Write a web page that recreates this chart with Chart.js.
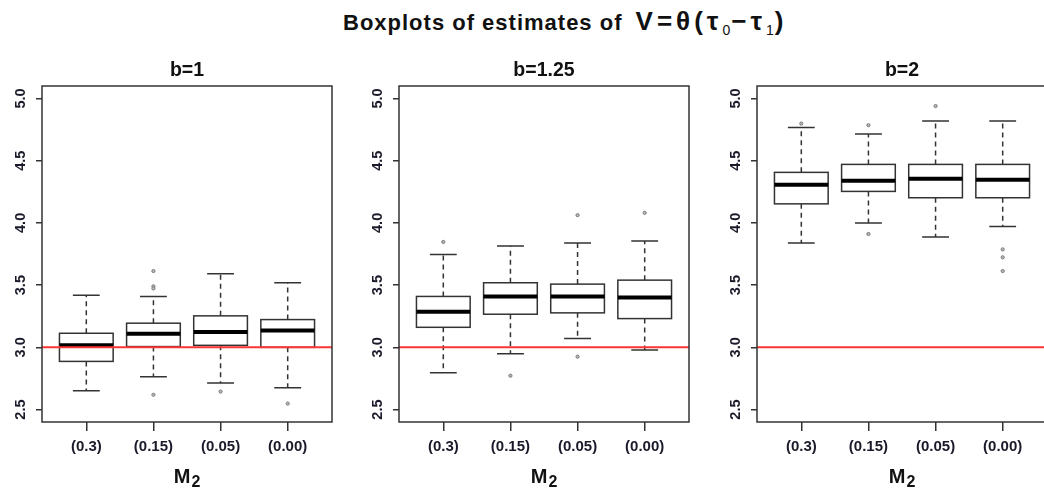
<!DOCTYPE html>
<html>
<head>
<meta charset="utf-8">
<script src="https://cdn.jsdelivr.net/npm/chart.js@4.4.1/dist/chart.umd.min.js"></script>
<style>
    body { margin: 0; width: 1044px; height: 490px; overflow: hidden; background: #fff; position: relative; font-family: "Liberation Sans", Arial, sans-serif; color: #111; }
    .panel { position: absolute; top: 0; width: 357px; height: 490px; }
    .main-title { position: absolute; top: 7px; left: 343px; white-space: nowrap; font-weight: bold; font-size: 22px; letter-spacing: 1px; line-height: 28px; }
    .main-title .math { font-size: 26px; letter-spacing: 4px; margin-left: 6px; }
    .main-title sub { font-size: 14px; vertical-align: -5px; font-weight: normal; letter-spacing: 1px; }
    .xlab { position: absolute; top: 464px; width: 100px; text-align: center; font-weight: bold; font-size: 20px; line-height: 24px; }
    .xlab span { font-size: 16px; position: relative; top: 4px; margin-left: 1px; }
</style>
</head>
<body>
<div class="main-title">Boxplots of estimates of <span class="math">V=θ(τ<sub>0</sub>−τ<sub>1</sub>)</span></div>
<div class="panel" style="left:0px"><canvas id="panelB1" width="357" height="490"></canvas><div class="xlab" style="left:137px">M<span>2</span></div></div>
<div class="panel" style="left:357px"><canvas id="panelB125" width="357" height="490"></canvas><div class="xlab" style="left:137px">M<span>2</span></div></div>
<div class="panel" style="left:715px"><canvas id="panelB2" width="357" height="490"></canvas><div class="xlab" style="left:137px">M<span>2</span></div></div>
<script>
    // groups on the x axis, y ticks and the reference line
    const groups = ['(0.3)', '(0.15)', '(0.05)', '(0.00)'];
    const yTicks = [2.5, 3.0, 3.5, 4.0, 4.5, 5.0];
    const trueValue = 3;

    // b=1
    const b1Low = [2.651, 2.764, 2.713, 2.675];
    const b1Q1 = [2.887, 3.006, 3.016, 3.0];
    const b1Median = [3.016, 3.11, 3.124, 3.135];
    const b1Q3 = [3.113, 3.194, 3.253, 3.223];
    const b1High = [3.419, 3.409, 3.592, 3.519];
    const b1Outliers = [[], [3.613, 3.49, 3.473, 2.619], [2.645], [2.548]];

    // b=1.25
    const b125Low = [2.796, 2.949, 3.07, 2.979];
    const b125Q1 = [3.161, 3.266, 3.277, 3.231];
    const b125Median = [3.285, 3.409, 3.409, 3.401];
    const b125Q3 = [3.409, 3.519, 3.508, 3.54];
    const b125High = [3.745, 3.815, 3.839, 3.855];
    const b125Outliers = [[3.847], [2.772], [4.062, 2.925], [4.081]];

    // b=2
    const b2Low = [3.839, 4.0, 3.887, 3.971];
    const b2Q1 = [4.153, 4.253, 4.202, 4.202];
    const b2Median = [4.306, 4.339, 4.355, 4.347];
    const b2Q3 = [4.406, 4.47, 4.47, 4.47];
    const b2High = [4.766, 4.715, 4.818, 4.818];
    const b2Outliers = [[4.798], [4.785, 3.911], [4.939], [3.787, 3.723, 3.613]];

    const fontFamily = '"Liberation Sans", Arial, sans-serif';
    const ink = '#333';

    // boxes, whiskers and medians drawn through the chart scales
    function boxPlugin(low, q1, med, q3, high) {
        return {
            id: 'boxes',
            beforeDatasetsDraw(chart) {
                const { ctx, scales: { x, y } } = chart;
                ctx.save();
                ctx.strokeStyle = ink;
                med.forEach((m, i) => {
                    const cx = x.getPixelForValue(i + 1);
                    const bw = x.getPixelForValue(i + 1.4) - cx;
                    const cw = x.getPixelForValue(i + 1.2) - cx;
                    const yLow = y.getPixelForValue(low[i]);
                    const yQ1 = y.getPixelForValue(q1[i]);
                    const yMed = y.getPixelForValue(m);
                    const yQ3 = y.getPixelForValue(q3[i]);
                    const yHigh = y.getPixelForValue(high[i]);

                    ctx.lineWidth = 1.5;
                    ctx.setLineDash([5, 4]);
                    ctx.beginPath();
                    ctx.moveTo(cx, yQ3); ctx.lineTo(cx, yHigh);
                    ctx.moveTo(cx, yQ1); ctx.lineTo(cx, yLow);
                    ctx.stroke();
                    ctx.setLineDash([]);

                    ctx.beginPath();
                    ctx.moveTo(cx - cw, yHigh); ctx.lineTo(cx + cw, yHigh);
                    ctx.moveTo(cx - cw, yLow); ctx.lineTo(cx + cw, yLow);
                    ctx.stroke();

                    ctx.fillStyle = '#fff';
                    ctx.fillRect(cx - bw, yQ3, bw * 2, yQ1 - yQ3);
                    ctx.strokeRect(cx - bw, yQ3, bw * 2, yQ1 - yQ3);

                    ctx.lineWidth = 4;
                    ctx.strokeStyle = '#000';
                    ctx.beginPath();
                    ctx.moveTo(cx - bw, yMed); ctx.lineTo(cx + bw, yMed);
                    ctx.stroke();
                    ctx.strokeStyle = ink;
                });
                ctx.restore();
            },
            afterDraw(chart) {
                const { ctx, chartArea: a } = chart;
                ctx.save();
                ctx.strokeStyle = ink;
                ctx.lineWidth = 1.5;
                ctx.strokeRect(a.left, a.top, a.right - a.left, a.bottom - a.top);
                ctx.restore();
            }
        };
    }

    function makePanel(canvasId, title, low, q1, med, q3, high, outliers) {
        const ctx = document.getElementById(canvasId).getContext('2d');
        const xMin = 0.34;
        const xMax = groups.length + 0.66;
        new Chart(ctx, {
            type: 'scatter',
            data: {
                datasets: [
                    {
                        label: 'outliers',
                        data: outliers.flatMap((vals, i) => vals.map(v => ({ x: i + 1, y: v }))),
                        pointRadius: 1.6,
                        pointStyle: 'circle',
                        borderColor: '#777',
                        backgroundColor: '#bbb',
                        borderWidth: 1
                    },
                    {
                        type: 'line',
                        label: 'true value',
                        data: [{ x: xMin, y: trueValue }, { x: xMax, y: trueValue }],
                        borderColor: '#ff3535',
                        borderWidth: 2,
                        pointRadius: 0,
                        showLine: true
                    }
                ]
            },
            options: {
                responsive: false,
                animation: false,
                events: [],
                layout: { padding: { left: 0, right: 25, top: 0, bottom: 0 } },
                plugins: {
                    legend: { display: false },
                    tooltip: { enabled: false },
                    title: {
                        display: true,
                        fullSize: false,
                        text: title,
                        color: '#111',
                        font: { family: fontFamily, size: 19.5, weight: 'bold', lineHeight: 1.2 },
                        padding: { top: 59, bottom: 3.6 }
                    }
                },
                scales: {
                    x: {
                        type: 'linear',
                        min: xMin,
                        max: xMax,
                        afterBuildTicks: s => { s.ticks = groups.map((g, i) => ({ value: i + 1 })); },
                        afterFit: s => { s.height = 68; },
                        ticks: {
                            autoSkip: false,
                            maxRotation: 0,
                            padding: 7,
                            color: '#1a1a2a',
                            font: { family: fontFamily, size: 15, weight: 'bold' },
                            callback: v => groups[Math.round(v) - 1]
                        },
                        grid: { drawOnChartArea: false, drawTicks: true, tickLength: 9, color: ink, lineWidth: 1.5 },
                        border: { display: false }
                    },
                    y: {
                        min: 2.4,
                        max: 5.1,
                        afterBuildTicks: s => { s.ticks = yTicks.map(v => ({ value: v })); },
                        afterFit: s => { s.width = 42; },
                        ticks: {
                            minRotation: 90,
                            maxRotation: 90,
                            crossAlign: 'center',
                            padding: 5,
                            color: '#1a1a2a',
                            font: { family: fontFamily, size: 14.5, weight: 'bold' },
                            callback: v => v.toFixed(1)
                        },
                        grid: { drawOnChartArea: false, drawTicks: true, tickLength: 6, color: ink, lineWidth: 1.5 },
                        border: { display: false }
                    }
                }
            },
            plugins: [boxPlugin(low, q1, med, q3, high)]
        });
    }

    // Panel 1: b=1
    makePanel('panelB1', 'b=1', b1Low, b1Q1, b1Median, b1Q3, b1High, b1Outliers);
    // Panel 2: b=1.25
    makePanel('panelB125', 'b=1.25', b125Low, b125Q1, b125Median, b125Q3, b125High, b125Outliers);
    // Panel 3: b=2
    makePanel('panelB2', 'b=2', b2Low, b2Q1, b2Median, b2Q3, b2High, b2Outliers);
</script>
</body>
</html>
